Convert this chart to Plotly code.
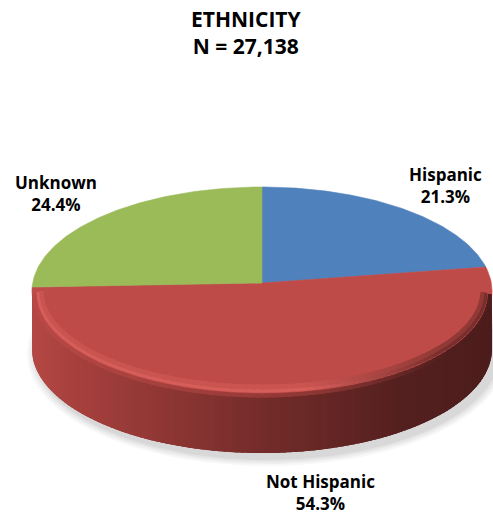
import numpy as np
import plotly.graph_objects as go

# ---- data ----
categories = ["Hispanic", "Not Hispanic", "Unknown"]
percents = [21.3, 54.3, 24.4]
total_n = "27,138"
title_text = "ETHNICITY"

# ---- style / layout constants ----
top_colors = ["#4F81BD", "#BE4B48", "#9BBB59"]
W, H = 493, 519
cx, cy = 262, 291          # centre of top ellipse (pixels)
apex_y = 283               # perspective: pie centre sits a little above the ellipse centre
ra, rb = 230, 104          # semi axes
depth = 58                 # thickness of the disc
label_pos = [(445, 185), (320, 492), (56, 193)]

fig = go.Figure()

def ell(theta, a=ra, b=rb, y0=cy):
    # theta measured clockwise from 12 o'clock (radians)
    return cx + a * np.sin(theta), y0 - b * np.cos(theta)

def mix(c0, c1, f):
    return tuple(int(round(c0[i] + (c1[i] - c0[i]) * f)) for i in range(3))

def rgb(c):
    return f"rgb({c[0]},{c[1]},{c[2]})"

# soft shadow
for k, op in enumerate([0.03, 0.035, 0.04, 0.05]):
    t = np.linspace(0, 2 * np.pi, 200)
    grow = 10 - 2.5 * k
    xs = cx + 5 + (ra + grow) * np.sin(t)
    ys = cy + depth + 5 - (rb + grow * 0.8) * np.cos(t)
    fig.add_trace(go.Scatter(x=xs, y=ys, mode="lines", fill="toself",
                             line=dict(width=0), fillcolor=f"rgba(0,0,0,{op})",
                             hoverinfo="skip", showlegend=False))

# side of the disc (front half visible), drawn as shaded strips
def side_color(x):
    t = (x - (cx - ra)) / (2 * ra)
    t = min(max(t, 0.0), 1.0)
    stops = [(0.0, (180, 72, 68)), (0.1, (166, 64, 61)), (0.5, (116, 44, 42)),
             (0.8, (84, 32, 31)), (1.0, (76, 29, 28))]
    for (t0, c0), (t1, c1) in zip(stops[:-1], stops[1:]):
        if t <= t1:
            f = (t - t0) / (t1 - t0) if t1 > t0 else 0
            return mix(c0, c1, f)
    return stops[-1][1]

nstrips = 120
ths = np.linspace(np.pi / 2, 3 * np.pi / 2, nstrips + 1)
step = ths[1] - ths[0]
for i in range(nstrips):
    t0 = ths[i]
    t1 = min(ths[i + 1] + step * 1.5, 3 * np.pi / 2)
    sub = np.linspace(t0, t1, 5)
    xs_top, ys_top = ell(sub)
    xs = list(xs_top) + list(xs_top[::-1])
    ys = list(ys_top) + list((ys_top + depth)[::-1])
    col = rgb(side_color(float(ell(ths[i] + step / 2)[0])))
    fig.add_trace(go.Scatter(x=xs, y=ys, mode="lines", fill="toself",
                             line=dict(width=0), fillcolor=col,
                             hoverinfo="skip", showlegend=False))

# top face slices
cum = np.cumsum([0] + percents) / 100.0
for i, name in enumerate(categories):
    th = np.linspace(cum[i] * 2 * np.pi, cum[i + 1] * 2 * np.pi, 120)
    xs, ys = ell(th)
    xs = np.concatenate([[cx], xs, [cx]])
    ys = np.concatenate([[apex_y], ys, [apex_y]])
    fig.add_trace(go.Scatter(x=xs, y=ys, mode="lines", fill="toself",
                             line=dict(width=0.6, color=top_colors[i]),
                             fillcolor=top_colors[i], name=name,
                             hoverinfo="skip", showlegend=False))

# bevel along the front rim of the top face (opaque colours, no beading)
base = (190, 75, 72)
light = (214, 94, 90)
dark = (88, 34, 33)
nb = 90
bt = np.linspace(np.pi / 2 + 0.01, 3 * np.pi / 2, nb + 1)
layers = [  # (a-shrink, b-shrink, yshift, width, kind)
    (9, 8, 0, 5, "soft"),
    (6, 5, 1, 3, "hi"),
    (2, 1.5, 2, 4, "edge"),
]
for (da, db, dy, wid, kind) in layers:
    for i in range(nb):
        seg = np.linspace(bt[i], min(bt[i + 1] + (bt[1] - bt[0]) * 0.6, 3 * np.pi / 2), 3)
        xm = float(np.mean(ell(seg)[0]))
        tt = (xm - (cx - ra)) / (2 * ra)
        fr = 0.0 if tt < 0.6 else min(1.0, (tt - 0.6) / 0.3)
        if kind == "soft":
            c = mix(mix(base, light, 0.45), mix(base, dark, 0.45), fr)
        elif kind == "hi":
            c = mix(light, mix(base, dark, 0.7), fr)
        else:
            c = mix(mix(base, side_color(xm), 0.55), side_color(xm), fr)
        xs, ys = ell(seg, ra - da, rb - db, cy + dy)
        fig.add_trace(go.Scatter(x=xs, y=ys, mode="lines",
                                 line=dict(width=wid, color=rgb(c)),
                                 hoverinfo="skip", showlegend=False))

font_family = "'Open Sans', Lato, Arial, sans-serif"
annotations = [dict(x=W / 2, y=32, xref="x", yref="y",
                    text=f"<b>{title_text}<br>N = {total_n}</b>", showarrow=False,
                    font=dict(family=font_family, size=21, color="black"),
                    align="center")]
for (lx, ly), name, p in zip(label_pos, categories, percents):
    annotations.append(dict(x=lx, y=ly, xref="x", yref="y",
                            text=f"<b>{name}<br>{p:.1f}%</b>", showarrow=False,
                            font=dict(family=font_family, size=17, color="black"),
                            align="center"))

fig.update_layout(
    width=W, height=H, autosize=False,
    margin=dict(l=0, r=0, t=0, b=0),
    paper_bgcolor="white", plot_bgcolor="white",
    xaxis=dict(range=[0, W], visible=False, fixedrange=True),
    yaxis=dict(range=[H, 0], visible=False, fixedrange=True),
    annotations=annotations,
)

fig.write_html("out.html", config={"displayModeBar": False},
               post_script="document.body.style.margin='0';"
                           "document.body.style.overflow='hidden';")
